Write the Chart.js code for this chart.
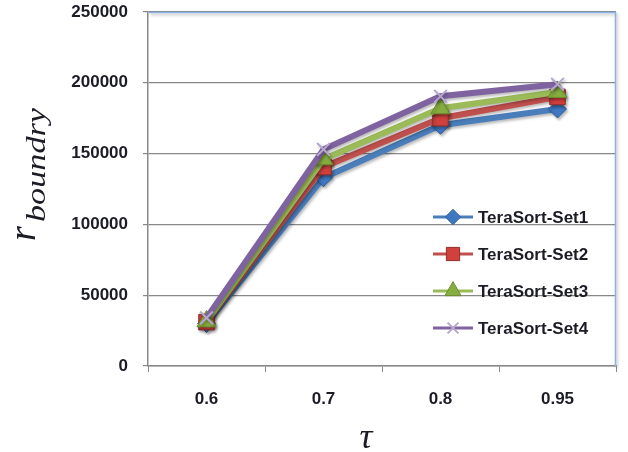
<!DOCTYPE html>
<html>
<head>
<meta charset="utf-8">
<script src="https://cdn.jsdelivr.net/npm/chart.js@4/dist/chart.umd.min.js"></script>
<style>
  html, body { margin: 0; padding: 0; background: #ffffff; }
  #wrap { width: 628px; height: 452px; }
</style>
</head>
<body>
<div id="wrap"><canvas id="c" width="628" height="452"></canvas></div>
<script>
// Threshold values on the x axis
const tauLabels = ['0.6', '0.7', '0.8', '0.95'];

// r_boundry for each TeraSort input set
const set1 = [30000, 133000, 170000, 181500];
const set2 = [31000, 140500, 175000, 190000];
const set3 = [31500, 146000, 182000, 193500];
const set4 = [34000, 153000, 190500, 199000];

const seriesNames = ['TeraSort-Set1', 'TeraSort-Set2', 'TeraSort-Set3', 'TeraSort-Set4'];

// y axis tick values
const yTicks = [0, 50000, 100000, 150000, 200000, 250000];

const GRID = '#888888';
const TEXT = '#1c1c26';
const FONT = 'Liberation Sans';

const styles = [
  { line: '#4a7ebb', fill: '#3f78c0', edge: '#2d5f9e', point: 'rectRot', radius: 9 },
  { line: '#c0504d', fill: '#d0403c', edge: '#8f2f2c', point: 'rect', radius: 11 },
  { line: '#9bbb59', fill: '#86ad3f', edge: '#6a8d2e', point: 'triangle', radius: 11 },
  { line: '#7f63a1', fill: '#b7a6d0', edge: '#b7a6d0', point: 'crossRot', radius: 9 }
];

const seriesData = [set1, set2, set3, set4];

const datasets = seriesData.map((vals, i) => ({
  label: seriesNames[i],
  data: vals,
  borderColor: styles[i].line,
  backgroundColor: styles[i].fill,
  borderWidth: 6,
  tension: 0,
  pointStyle: styles[i].point,
  pointRadius: styles[i].radius,
  pointBackgroundColor: styles[i].fill,
  pointBorderColor: styles[i].edge,
  pointBorderWidth: i === 3 ? 2 : 1,
  order: 4 - i
}));

// Soft drop shadow under the series, like an office-style chart
const shadowPlugin = {
  id: 'seriesShadow',
  beforeDatasetsDraw(chart) {
    const ctx = chart.ctx;
    ctx.save();
    ctx.shadowColor = 'rgba(0,0,0,0.28)';
    ctx.shadowBlur = 3;
    ctx.shadowOffsetX = 1.5;
    ctx.shadowOffsetY = 2;
  },
  afterDatasetsDraw(chart) {
    chart.ctx.restore();
  }
};

// Plot-area frame, axis titles and the in-plot legend
const decorPlugin = {
  id: 'decor',
  beforeDatasetsDraw(chart) {
    const { ctx, chartArea: a } = chart;
    ctx.save();
    ctx.strokeStyle = '#8db3e2';
    ctx.lineWidth = 1.5;
    ctx.beginPath();
    ctx.moveTo(a.left + 1, a.top + 0.5);
    ctx.lineTo(a.right - 0.5, a.top + 0.5);
    ctx.lineTo(a.right - 0.5, a.bottom);
    ctx.stroke();
    ctx.restore();
  },
  afterDraw(chart) {
    const { ctx } = chart;
    ctx.save();
    ctx.fillStyle = TEXT;

    // y axis title: r with subscript "boundry", rotated
    ctx.save();
    ctx.translate(35, 241);
    ctx.rotate(-Math.PI / 2);
    ctx.textBaseline = 'alphabetic';
    ctx.textAlign = 'left';
    ctx.font = 'italic 38px "Liberation Serif"';
    ctx.fillText('r', 0, 0);
    ctx.font = 'italic 28px "Liberation Serif"';
    const sub = 'boundry';
    const w = ctx.measureText(sub).width;
    ctx.save();
    ctx.translate(19, 10);
    ctx.scale(114 / w, 1);
    ctx.fillText(sub, 0, 0);
    ctx.restore();
    ctx.restore();

    // x axis title
    ctx.font = 'italic 36px "Liberation Serif"';
    ctx.textAlign = 'center';
    ctx.textBaseline = 'alphabetic';
    ctx.fillText('\u03C4', 366, 448);

    // legend
    const lx = 433, ly = 217, gap = 37;
    ctx.font = 'bold 17px "' + FONT + '"';
    ctx.textAlign = 'left';
    ctx.textBaseline = 'middle';
    seriesNames.forEach((name, i) => {
      const y = ly + i * gap;
      const s = styles[i];
      ctx.strokeStyle = s.line;
      ctx.lineWidth = 3;
      ctx.beginPath();
      ctx.moveTo(lx, y);
      ctx.lineTo(lx + 40, y);
      ctx.stroke();
      ctx.fillStyle = s.fill;
      ctx.strokeStyle = s.edge;
      ctx.lineWidth = i === 3 ? 2 : 1;
      Chart.helpers.drawPoint(ctx, {
        pointStyle: s.point,
        radius: s.radius * 0.85,
        rotation: 0,
        borderWidth: i === 3 ? 2 : 1
      }, lx + 20, y);
      ctx.fillStyle = TEXT;
      ctx.fillText(name, lx + 45, y + 1);
    });
    ctx.restore();
  }
};

new Chart(document.getElementById('c'), {
  type: 'line',
  data: { labels: tauLabels, datasets },
  plugins: [shadowPlugin, decorPlugin],
  options: {
    responsive: false,
    animation: false,
    layout: { padding: 0 },
    plugins: {
      legend: { display: false },
      tooltip: { enabled: false }
    },
    scales: {
      x: {
        type: 'category',
        offset: true,
        grid: {
          offset: true,
          drawOnChartArea: false,
          drawTicks: true,
          tickLength: 6,
          color: GRID
        },
        border: { color: GRID, width: 1.5 },
        ticks: {
          color: TEXT,
          padding: 17,
          font: { family: FONT, size: 17, weight: 'bold' }
        },
        afterFit(scale) {
          scale.height = 86;
          scale.paddingLeft = 0;
          scale.paddingRight = 6;
          // keep only a small gap to the right of the plot area
          if (scale._margins) { scale._margins.right = 6; }
        }
      },
      y: {
        min: 0,
        max: 250000,
        afterBuildTicks(scale) { scale.ticks = yTicks.map(v => ({ value: v })); },
        grid: {
          color: GRID,
          lineWidth: 1.2,
          tickLength: 5,
          drawTicks: true
        },
        border: { color: GRID, width: 1.5 },
        ticks: {
          color: TEXT,
          padding: 15,
          font: { family: FONT, size: 17, weight: 'bold' },
          callback: v => String(v)
        },
        afterFit(scale) {
          scale.width = 148;
          scale.paddingTop = 12;
          scale.paddingBottom = 0;
        }
      }
    }
  }
});
</script>
</body>
</html>
